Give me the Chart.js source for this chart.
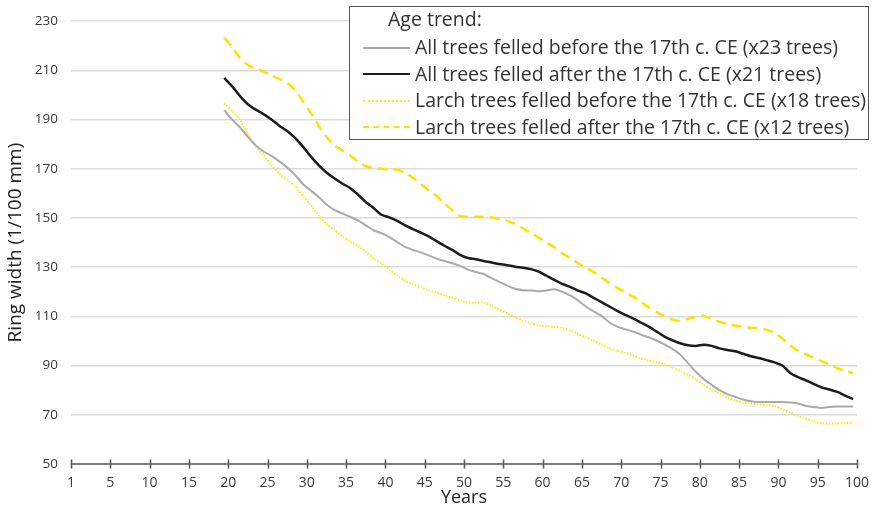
<!DOCTYPE html>
<html>
<head>
<meta charset="utf-8">
<script src="https://cdn.jsdelivr.net/npm/chart.js@4.4.1/dist/chart.umd.min.js"></script>
<style>
html,body{margin:0;padding:0;background:#fff;}
#wrap{position:relative;width:877px;height:510px;}
canvas{display:block;}
#legend{position:absolute;left:349px;top:6px;width:520px;height:134px;border:1.5px solid #555;background:#fff;font-family:'Open Sans',sans-serif;color:#333;box-sizing:border-box;}
#legend .title{position:absolute;left:38px;top:-1px;font-size:19.5px;line-height:26px;white-space:nowrap;}
#legend .row{position:absolute;left:13px;height:26px;font-size:19.5px;line-height:26px;white-space:nowrap;}
#legend .sample{display:inline-block;width:47px;height:0;vertical-align:middle;margin-right:5px;position:relative;top:-1px;}
</style>
</head>
<body>
<div id="wrap">
<canvas id="c" width="877" height="510"></canvas>
<div id="legend"></div>
</div>
<script>
// ---- data ----
const years = [20,21,22,23,24,25,26,27,28,29,30,31,32,33,34,35,36,37,38,39,40,41,42,43,44,45,46,47,48,49,50,51,52,53,54,55,56,57,58,59,60,61,62,63,64,65,66,67,68,69,70,71,72,73,74,75,76,77,78,79,80,81,82,83,84,85,86,87,88,89,90,91,92,93,94,95,96,97,98,99,100];

const xTickLabels = ['1','5','10','15','20','25','30','35','40','45','50','55','60','65','70','75','80','85','90','95','100'];
const yTickValues = [50,70,90,110,130,150,170,190,210,230];

const legendTitle = 'Age trend:';
const seriesNames = [
  'All trees felled before the 17th c. CE (x23 trees)',
  'All trees felled after the 17th c. CE (x21 trees)',
  'Larch trees felled before the 17th c. CE (x18 trees)',
  'Larch trees felled after the 17th c. CE (x12 trees)'
];

const allBefore = [193.8,190,186.8,183,179.5,177,175.2,173,170.5,167.5,163.8,161.2,158.5,155.5,153.3,151.8,150.5,149,147,145,143.8,142.2,140.2,138.2,137,136,134.8,133.5,132.5,131.6,130.5,129,128,127.2,125.5,124,122.5,121.2,120.6,120.5,120.2,120.5,121,120,118.5,116.5,114,112,110.2,107.5,105.8,104.8,103.8,102.6,101.5,100.2,98.6,96.8,94.5,91,87.5,84.5,82.2,80,78.4,77.3,76.2,75.5,75.2,75.2,75.2,75.2,75,74.6,73.6,73.2,72.8,73.2,73.4,73.4,73.4];

const allAfter = [206.9,203.5,199.5,196.2,194,192.2,190,187.5,185.3,182.5,179,175,171.5,168.5,166.1,164,162.2,159.5,156.5,154,151.3,150.2,148.8,147,145.5,144,142.5,140.6,138.7,137,135,133.7,133.2,132.5,131.9,131.3,130.8,130.2,129.8,129.2,128.2,126.5,124.8,123.2,122,120.5,119.3,117.5,115.8,114,112.2,110.6,109.2,107.5,105.8,103.8,101.8,100.3,99.1,98.3,98,98.5,98,97,96.3,95.8,94.8,93.8,93.1,92.2,91.3,90,87,85.3,84,82.5,81.1,80.3,79.3,77.8,76.4];

const larchBefore = [196.6,193.5,189.8,184,179,175.5,171.5,168,165.5,163,159,155.4,151,147.5,145.2,142.6,140.5,138.6,136.2,133.5,131.5,129,126.5,124.5,123,121.8,120.6,119.7,118.6,117.5,116.5,115.6,115.5,115.7,114.2,112.8,111.2,109.6,108.3,107.2,106.3,106,105.7,105.3,104.3,102.8,101.5,100.1,98.5,97,96,95.2,94,92.9,92,91.4,90.6,89.2,87.8,86.2,84.5,82.2,80.2,78.6,77,75.8,75,74.5,74.2,73.9,73.5,72.3,70.9,69.5,68.4,67.4,66.5,66.4,66.4,66.6,66.8];

const larchAfter = [223.3,219.5,215,212.2,210.8,209.5,208,206.5,205,202,197.5,192.8,187.5,183,179.5,177.5,175.5,173,171,170.3,170,169.8,169.6,168.4,166.3,163.8,161.3,158.9,156,153.2,150.8,150.5,150.5,150.4,150.2,149.6,148.8,147.5,145.8,143.9,142,140,138,135.6,133.7,131.6,129.8,128,125.8,123.7,121.6,119.8,118,115.8,113.6,111.7,110,108.7,108.2,109,109.8,110.2,109,107.8,107,106.3,105.8,105.3,105.2,104.5,103.3,101,98.2,96,94.6,93.2,91.8,90.5,88.9,88,86.9];

// ---- chart ----
const FONT = "'Open Sans', sans-serif";
function pts(vals){ return years.map((x,i)=>({x:x,y:vals[i]})); }

const styles = [
  {color:'#aaaaaa', width:2, dash:[], css:'solid'},
  {color:'#1c1c1c', width:2.5, dash:[], css:'solid'},
  {color:'#ffe81a', width:2, dash:[1.5,1.5], css:'dotted'},
  {color:'#ffe000', width:2.5, dash:[10,6], css:'dashed'}
];
const seriesValues = [allBefore, allAfter, larchBefore, larchAfter];

const datasets = seriesValues.map((v,i)=>({
  label: seriesNames[i],
  data: pts(v),
  borderColor: styles[i].color,
  borderWidth: styles[i].width,
  borderDash: styles[i].dash,
  pointRadius: 0,
  tension: 0.25,
  fill: false
}));

const axisTicksPlugin = {
  id: 'axisTicks',
  afterDraw(chart){
    const xs = chart.scales.x, ctx = chart.ctx, a = chart.chartArea, y = a.bottom;
    ctx.save();
    ctx.strokeStyle = '#5b5b5b';
    ctx.lineWidth = 1.6;
    ctx.beginPath();
    ctx.moveTo(xs.getPixelForValue(xs.min), y);
    ctx.lineTo(xs.getPixelForValue(xs.max), y);
    xs.ticks.forEach(t=>{
      const px = Math.round(xs.getPixelForValue(t.value))+0.5;
      ctx.moveTo(px, y-4.5);
      ctx.lineTo(px, y+4.5);
    });
    ctx.stroke();
    ctx.restore();
  }
};

const chart = new Chart(document.getElementById('c'), {
  type: 'line',
  data: { datasets: datasets },
  options: {
    responsive: false,
    animation: false,
    devicePixelRatio: 1,
    layout: { padding: { left: 0, right: 20, top: 15, bottom: 0 } },
    plugins: { legend: { display: false }, tooltip: { enabled: false } },
    scales: {
      x: {
        type: 'linear',
        min: 0.5,
        max: 100.5,
        afterBuildTicks(scale){
          scale.ticks = xTickLabels.map((l,i)=>({value: i*5 + 0.5}));
        },
        afterFit(scale){ scale.height = 46; },
        grid: { display: false },
        border: { display: false },
        ticks: {
          autoSkip: false, maxRotation: 0, padding: 3,
          color: '#3a3a3a',
          font: { family: FONT, size: 14 },
          callback: (v, i) => xTickLabels[i]
        },
        title: {
          display: true, text: 'Years', color: '#222',
          font: { family: FONT, size: 18 },
          padding: { top: 0, bottom: 1 }
        }
      },
      y: {
        min: 50, max: 230,
        afterBuildTicks(scale){
          scale.ticks = yTickValues.map(v=>({value:v}));
        },
        afterFit(scale){ scale.width = 71; },
        grid: { color: '#dcdcdc', lineWidth: 1.5, drawTicks: false },
        border: { display: false },
        ticks: {
          padding: 13, color: '#3a3a3a',
          font: { family: FONT, size: 13.5 }
        },
        title: {
          display: true, text: 'Ring width (1/100 mm)', color: '#222',
          font: { family: FONT, size: 19 },
          padding: { top: 4, bottom: 0 }
        }
      }
    }
  },
  plugins: [axisTicksPlugin]
});

// ---- legend (HTML text) ----
const lg = document.getElementById('legend');
const t = document.createElement('div');
t.className = 'title'; t.textContent = legendTitle; lg.appendChild(t);
chart.data.datasets.forEach((ds,i)=>{
  const r = document.createElement('div');
  r.className = 'row';
  r.style.top = (27 + i*26.5) + 'px';
  const s = document.createElement('span');
  s.className = 'sample';
  s.style.borderTop = styles[i].width + 'px ' + styles[i].css + ' ' + styles[i].color;
  r.appendChild(s);
  r.appendChild(document.createTextNode(ds.label));
  lg.appendChild(r);
});
</script>
</body>
</html>
